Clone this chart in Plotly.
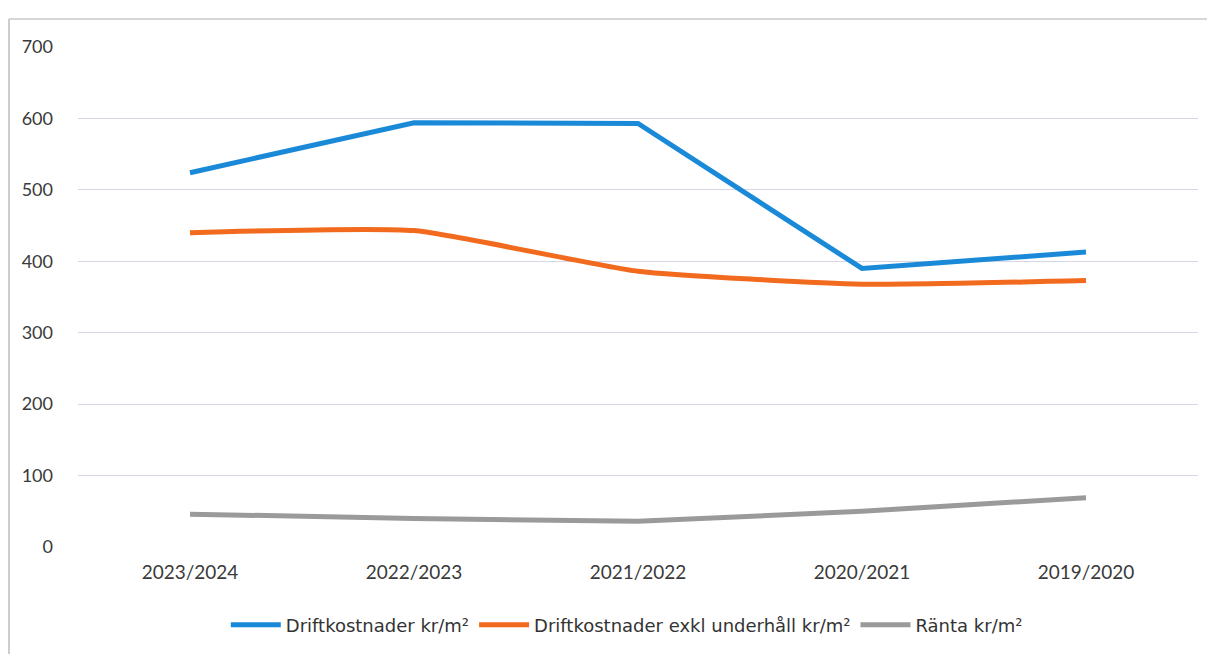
import plotly.graph_objects as go

categories = ["2023/2024", "2022/2023", "2021/2022", "2020/2021", "2019/2020"]
drift = [524, 594, 593, 390, 413]
drift_exkl = [440, 443, 386, 368, 373]
ranta = [46, 40, 36, 50, 69]
y_ticks = [0, 100, 200, 300, 400, 500, 600, 700]

fig = go.Figure()
fig.add_trace(go.Scatter(x=categories, y=drift, mode="lines", name="Driftkostnader kr/m²",
                         line=dict(color="#1a8ad8", width=5)))
fig.add_trace(go.Scatter(x=categories, y=drift_exkl, mode="lines", name="Driftkostnader exkl underhåll kr/m²",
                         line=dict(color="#f26a1d", width=5, shape="spline", smoothing=0.5)))
fig.add_trace(go.Scatter(x=categories, y=ranta, mode="lines", name="Ränta kr/m²",
                         line=dict(color="#9a9a9a", width=5)))

# page body has an 8px offset, so the figure is sized to the visible window
W, H = 1207, 646
L, T = 70, 39
R = W - 1190
B = H - 539
pw, ph = W - L - R, H - T - B

fig.update_layout(
    width=W, height=H,
    margin=dict(l=L, r=R, t=T, b=B, autoexpand=False),
    paper_bgcolor="white", plot_bgcolor="white",
    font=dict(family="Lato, Open Sans, sans-serif", size=16, color="#3a3a3a"),
    showlegend=True,
    legend=dict(orientation="h", x=0.49, xanchor="center", y=(539 - 617) / ph, yanchor="middle",
                font=dict(family="DejaVu Sans, sans-serif", size=18, color="#333333"),
                itemwidth=50, tracegroupgap=0),
    xaxis=dict(showgrid=False, showline=False, zeroline=False, ticks="",
               tickfont=dict(size=19), range=[-0.5, 4.5], ticklabelstandoff=12),
    yaxis=dict(range=[0, 700], tickvals=y_ticks, showgrid=True, gridcolor="#d6d6e6",
               gridwidth=1, zeroline=False, showline=False, ticks="",
               tickfont=dict(size=18), ticklabelstandoff=24),
    shapes=[
        dict(type="line", xref="paper", yref="paper",
             x0=(1 - L) / pw, x1=(1 - L) / pw, y0=(539 - 11) / ph, y1=(539 - 660) / ph,
             line=dict(color="#bdbdbd", width=1.5)),
        dict(type="line", xref="paper", yref="paper",
             x0=(1 - L) / pw, x1=(W - L) / pw, y0=(539 - 11) / ph, y1=(539 - 11) / ph,
             line=dict(color="#c8c8c8", width=1.5)),
    ],
)

fig.write_html("out.html")
